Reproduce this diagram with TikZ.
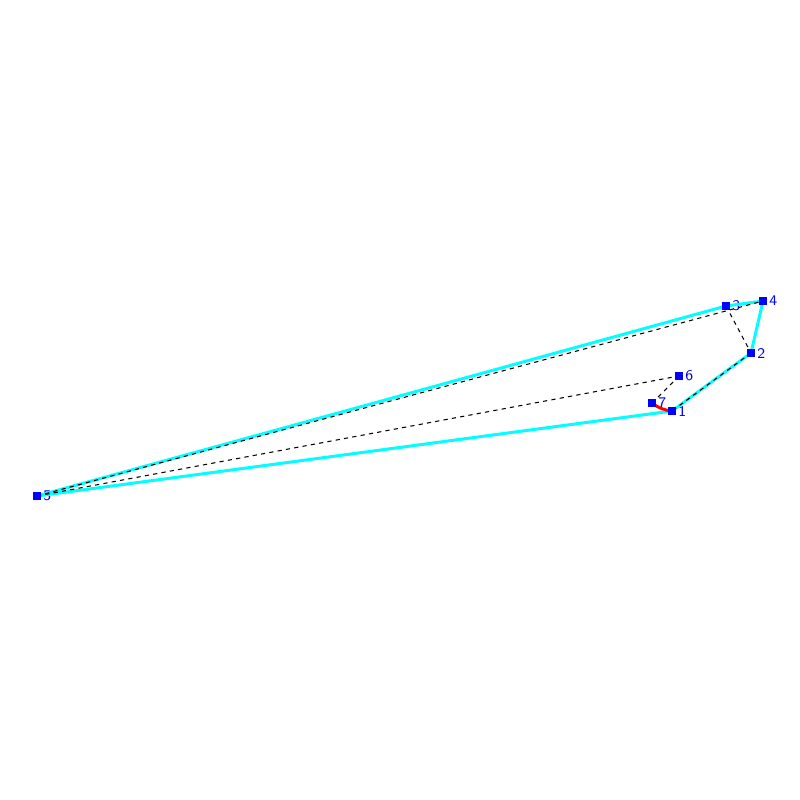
\documentclass[tikz,border=0pt]{standalone}
\usepackage{tikz}
\usetikzlibrary{positioning,calc}

\definecolor{hullcyan}{RGB}{0,255,255}
\definecolor{ptblue}{RGB}{0,0,255}
\definecolor{linkred}{RGB}{255,0,0}

\tikzset{
  pt/.style={rectangle, fill=ptblue, inner sep=0pt, minimum size=0.08cm},
  lbl/.style={text=ptblue, font=\fontsize{4.2}{4.5}\sffamily, inner sep=0.3pt},
  hull/.style={hullcyan, line width=0.85pt},
  aux/.style={black, line width=0.3pt, dash pattern=on 1.2pt off 1.2pt},
}

\begin{document}
\begin{tikzpicture}[x=0.01cm, y=-0.01cm]
        \useasboundingbox (0,0) rectangle (800,800);
        \node [pt, label={[lbl]right:1}] (p1) at (672, 411) {};
        \node [pt, label={[lbl]right:2}] (p2) at (751, 353) {};
        \node [pt, label={[lbl]right:3}] (p3) at (726, 306) {};
        \node [pt, label={[lbl]right:4}] (p4) at (763, 301) {};
        \node [pt, label={[lbl]right:5}] (p5) at (37, 496) {};
        \node [pt, label={[lbl]right:6}] (p6) at (679, 376) {};
        \node [pt, label={[lbl]right:7}] (p7) at (652, 403) {};

        % hull
        \draw [hull] (p5.center) -- (p1.center) -- (p2.center) -- (p4.center) -- (p3.center) -- cycle;

        % dashed links
        \draw [aux] (p5.center) -- (p4.center);
        \draw [aux] (p3.center) -- (p2.center);
        \draw [aux] (p2.center) -- (p1.center);
        \draw [aux] (p5.center) -- (p6.center);
        \draw [aux] (p6.center) -- (p7.center);

        \draw [linkred, line width=0.85pt] (p7.center) to [bend right=15] (p1.center);

        % points on top
        \foreach \p in {p1,p2,p3,p4,p5,p6,p7}
          \fill [ptblue] ($(\p.center)+(-4,-4)$) rectangle ($(\p.center)+(4,4)$);
    \end{tikzpicture}
\end{document}
